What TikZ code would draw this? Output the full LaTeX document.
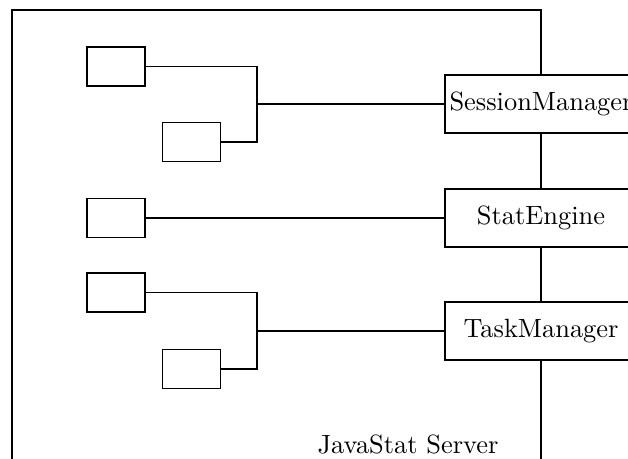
\documentclass[tikz,border=0pt]{standalone}
\begin{document}
\begin{tikzpicture}[x=0.3788pt, y=-0.3788pt, line width=0.75pt,
  part/.style={draw, inner sep=0pt, minimum width=21.97pt, minimum height=14.77pt},
  comp/.style={draw, fill=white, inner sep=0pt, minimum width=72.7pt, minimum height=21.97pt}]
  \useasboundingbox (0,0) rectangle (628,459);
  \clip (0,0) rectangle (628,459);

  % components on the server's right edge
  \node[comp] (sm) at (541,104) {SessionManager};
  \node[comp] (se) at (541,218) {StatEngine};
  \node[comp] (tm) at (541,331) {TaskManager};

  % server boundary
  \coordinate (bl) at (12,480);
  \coordinate (tl) at (12,10);
  \coordinate (tr) at (541,10);
  \coordinate (br) at (541,480);
  \draw (bl) -- (tl) -- (tr) -- (sm.north);
  \draw (sm.south) -- (se.north);
  \draw (se.south) -- (tm.north);
  \draw (tm.south) -- (br);
  \node (label) at (408,444) {JavaStat Server};

  % parts
  \node[part] (p1) at (116,66.5) {};
  \node[part] (p2) at (191.5,142) {};
  \node[part] (p3) at (116,218) {};
  \node[part] (p4) at (116,292.5) {};
  \node[part] (p5) at (191.5,369) {};

  % wiring
  \coordinate (j1) at (257,104);
  \coordinate (j2) at (257,331);
  \draw (p1.east) -| (j1);
  \draw (p2.east) -| (j1);
  \draw (j1) -- (sm.west);
  \draw (p3.east) -- (se.west);
  \draw (p4.east) -| (j2);
  \draw (p5.east) -| (j2);
  \draw (j2) -- (tm.west);
\end{tikzpicture}
\end{document}
